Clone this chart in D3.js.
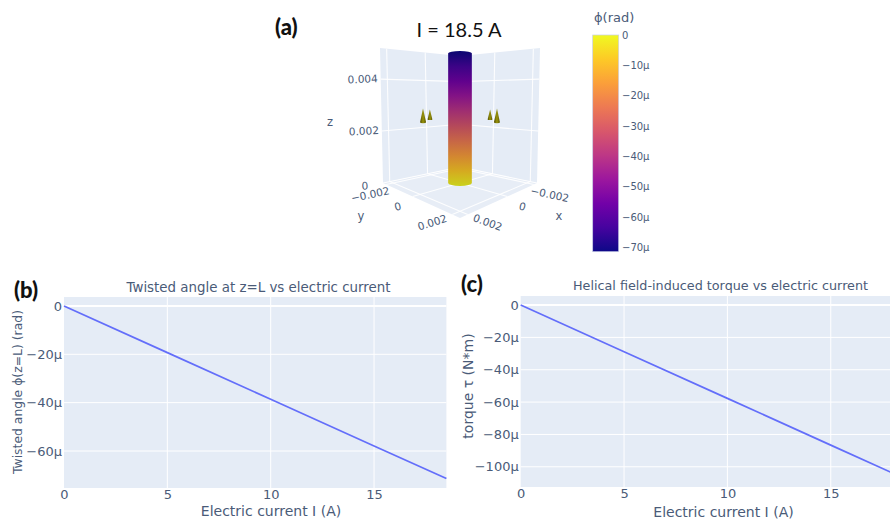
<!DOCTYPE html>
<html><head><meta charset="utf-8">
<script src="https://cdn.jsdelivr.net/npm/d3@7"></script>
<style>html,body{margin:0;padding:0;background:#fff;overflow:hidden}svg{display:block}text{font-family:"DejaVu Sans",sans-serif;fill:#4a5b78}</style>
</head><body><svg id="c" width="890" height="519"></svg>
<script>
// ---- data ----
const current = [0, 5, 10, 15, 18.5];
const twistAngle = [0, -19.3, -38.6, -57.9, -71.4];   // µrad
const torque = [0, -28.9, -57.7, -86.6, -106.8];      // µN·m
const xTicks = [0, 5, 10, 15];
const twistTicks = [0, -20, -40, -60];
const torqueTicks = [0, -20, -40, -60, -80, -100];
const cbTicks = [0, -10, -20, -30, -40, -50, -60, -70];
const plasma = ["#0d0887","#46039f","#7201a8","#9c179e","#bd3786","#d8576b","#ed7953","#fb9f3a","#fdca26","#f0f921"];
const sceneXTicks = [-0.002, 0, 0.002];
const sceneZTicks = [0, 0.002, 0.004];
const rodRadius = 0.0005, rodLength = 0.005;
const coneX = [0.00147, 0.00048, -0.00055, -0.0014];
const coneY = [-0.00055, -0.0014, 0.00147, 0.00048];
const coneSize = [1, 0.8, 1, 0.8];
const coneZ = 0.0024;

const svg = d3.select("#c");
const defs = svg.append("defs");
const fmtMicro = d => d === 0 ? "0" : "\u2212" + Math.abs(d) + "\u00b5";
const phiMin = twistAngle[twistAngle.length - 1];

// ---- 2D panels ----
function panel(o) {
  const x = d3.scaleLinear().domain([0, 18.5]).range([o.l, o.l + 382.4]);
  const y = d3.scaleLinear().domain(o.yDomain).range([o.b, o.t]);
  const g = svg.append("g");
  g.append("rect").attr("x", o.l).attr("y", o.t).attr("width", 382.4).attr("height", o.b - o.t).attr("fill", "#e5ecf6");
  g.selectAll("line.v").data(xTicks.slice(1)).join("line").attr("x1", x).attr("x2", x).attr("y1", o.t).attr("y2", o.b).attr("stroke", "#fff").attr("stroke-width", 1);
  g.selectAll("line.h").data(o.ticks).join("line").attr("x1", o.l).attr("x2", o.l + 382.4).attr("y1", y).attr("y2", y).attr("stroke", "#fff").attr("stroke-width", d => d === 0 ? 2 : 1);
  g.append("path").datum(d3.range(current.length)).attr("fill", "none").attr("stroke", "#636efa").attr("stroke-width", 1.7)
    .attr("d", d3.line().x(i => x(current[i])).y(i => y(o.values[i])));
  const ax = g.append("g").attr("transform", `translate(0,${o.b})`).call(d3.axisBottom(x).tickValues(xTicks).tickSize(0).tickPadding(2).tickFormat(d3.format("d")));
  ax.select(".domain").remove();
  ax.selectAll("text").attr("font-size", 13).style("font-family", '"DejaVu Sans"').style("fill", "#4a5b78");
  const ay = g.append("g").attr("transform", `translate(${o.l - 2},0)`).call(d3.axisLeft(y).tickValues(o.ticks).tickSize(0).tickPadding(0).tickFormat(fmtMicro));
  ay.select(".domain").remove();
  ay.selectAll("text").attr("font-size", 13).style("font-family", '"DejaVu Sans"').style("fill", "#4a5b78");
  g.append("text").attr("x", o.titleX).attr("y", o.titleY).attr("text-anchor", "middle").attr("font-size", o.titleSize).text(o.title);
  g.append("text").attr("x", o.xlabX).attr("y", o.xlabY).attr("text-anchor", "middle").attr("font-size", 14).text("Electric current I (A)");
  g.append("text").attr("transform", `translate(${o.ylabX},${o.ylabY}) rotate(-90)`).attr("text-anchor", "middle").attr("font-size", o.ylabSize).text(o.ylab);
}
panel({l: 64, t: 297, b: 488, yDomain: [-75.3, 3.7], values: twistAngle, ticks: twistTicks,
  title: "Twisted angle at z=L vs electric current", titleX: 258.5, titleY: 292, titleSize: 13.4, xlabX: 271, xlabY: 516,
  ylab: "Twisted angle \u03d5(z=L) (rad)", ylabX: 22, ylabY: 392, ylabSize: 12.4});
panel({l: 520.7, t: 296, b: 487, yDomain: [-112.5, 5.6], values: torque, ticks: torqueTicks,
  title: "Helical field-induced torque vs electric current", titleX: 720.5, titleY: 290, titleSize: 12.75, xlabX: 723.5, xlabY: 517,
  ylab: "torque \u03c4 (N*m)", ylabX: 473, ylabY: 386, ylabSize: 14});

// ---- colour bar ----
const cbY = d3.scaleLinear().domain([phiMin, 0]).range([251.7, 35]);
const cbGrad = defs.append("linearGradient").attr("id", "cb").attr("x1", 0).attr("x2", 0).attr("y1", 1).attr("y2", 0);
cbGrad.selectAll("stop").data(plasma).join("stop").attr("offset", (_, i) => i / (plasma.length - 1)).attr("stop-color", d => d);
svg.append("rect").attr("x", 592.7).attr("y", 35).attr("width", 26).attr("height", 216.7).attr("fill", "url(#cb)").attr("stroke", "#c9cfe6").attr("stroke-width", 0.7);
const cbAxis = svg.append("g").attr("transform", "translate(622,0)").call(d3.axisRight(cbY).tickValues(cbTicks).tickSize(0).tickPadding(0).tickFormat(fmtMicro));
cbAxis.select(".domain").remove();
cbAxis.selectAll("text").attr("font-size", 10).style("font-family", '"DejaVu Sans"').style("fill", "#4a5b78");
svg.append("text").attr("x", 594).attr("y", 22).attr("font-size", 13).text("\u03d5(rad)");

// ---- 3D scene ----
const range3 = 0.0023, zMax = 0.0052;
const U = d3.scaleLinear().domain([-range3, range3]).range([-1, 1]);
const W = d3.scaleLinear().domain([0, zMax]).range([0, 1]);
function proj(x, y, z) {
  const u = U(x), v = U(y), w = W(z), s = (v - u) / 2, t = (u + v) / 2;
  const d0 = 1 - 0.3725 * t, d1 = 1 - 0.3 * t;
  const x0 = 460 + 77 * s / d0, y0 = (183 - 46.2 * t) / d0;
  const x1 = 460 + 80 * s / d1, y1 = (48 - 24.8 * t) / d1;
  return [x0 + (x1 - x0) * w, y0 + (y1 - y0) * w];
}
const poly = pts => "M" + pts.map(p => proj(...p).map(n => n.toFixed(2)).join(",")).join("L") + "Z";
const seg = (a, b) => "M" + proj(...a).join(",") + "L" + proj(...b).join(",");
const R = range3;
const scene = svg.append("g");
// panes
scene.append("path").attr("d", poly([[R,-R,0],[-R,-R,0],[-R,-R,zMax],[R,-R,zMax]])).attr("fill", "#e5ecf6");
scene.append("path").attr("d", poly([[-R,R,0],[-R,-R,0],[-R,-R,zMax],[-R,R,zMax]])).attr("fill", "#e5ecf6");
scene.append("path").attr("d", poly([[R,R,0],[R,-R,0],[-R,-R,0],[-R,R,0]])).attr("fill", "#e7edf6");
// grid
const gridPaths = [];
sceneXTicks.forEach(k => {
  gridPaths.push(seg([k,-R,0],[k,-R,zMax]));   // back-left wall verticals
  gridPaths.push(seg([-R,k,0],[-R,k,zMax]));   // back-right wall verticals
  gridPaths.push(seg([k,-R,0],[k,R,0]));       // floor
  gridPaths.push(seg([-R,k,0],[R,k,0]));
});
sceneZTicks.forEach(z => {
  gridPaths.push(seg([R,-R,z],[-R,-R,z]));
  gridPaths.push(seg([-R,R,z],[-R,-R,z]));
});
scene.append("g").selectAll("path").data(gridPaths).join("path").attr("d", d => d).attr("fill", "none").attr("stroke", "#fff").attr("stroke-width", 1.1).attr("stroke-opacity", 0.9);

// rod
const shade = c => { const k = 0.84, r = d3.rgb(c); return d3.rgb(r.r * k, r.g * k, r.b * k).formatHex(); };
const rodGrad = defs.append("linearGradient").attr("id", "rod").attr("x1", 0).attr("x2", 0).attr("y1", 0).attr("y2", 1);
rodGrad.selectAll("stop").data(plasma).join("stop").attr("offset", (_, i) => i / (plasma.length - 1)).attr("stop-color", d => shade(d));
const rx = rodRadius * Math.SQRT1_2 / range3 * 77;
const ryBase = rx * 0.25;
const pBot = proj(0, 0, 0), pTop = proj(0, 0, rodLength);
scene.append("path").attr("d",
  `M${pTop[0]-rx},${pTop[1]}A${rx},${ryBase*0.7} 0 0 1 ${pTop[0]+rx},${pTop[1]}L${pBot[0]+rx},${pBot[1]}A${rx},${ryBase} 0 0 1 ${pBot[0]-rx},${pBot[1]}Z`)
  .attr("fill", "url(#rod)");

// cones
const coneGrad = defs.append("linearGradient").attr("id", "cone").attr("x1", 0).attr("x2", 1).attr("y1", 0).attr("y2", 0);
coneGrad.selectAll("stop").data(["#4f4c00", "#9a950c", "#5a5600"]).join("stop").attr("offset", (_, i) => i / 2).attr("stop-color", d => d);
scene.append("g").selectAll("path").data(d3.range(coneX.length)).join("path")
  .attr("d", i => {
    const b = proj(coneX[i], coneY[i], coneZ), a = proj(coneX[i], coneY[i], coneZ + 0.0005 * coneSize[i]);
    const hw = 3 * coneSize[i];
    return `M${a[0]},${a[1]}L${b[0]+hw},${b[1]}A${hw},${hw*0.3} 0 0 1 ${b[0]-hw},${b[1]}Z`;
  }).attr("fill", "url(#cone)");

// scene labels
const tick3 = (p, dx, dy, rot, txt, size) => {
  svg.append("text").attr("transform", `translate(${p[0] + dx},${p[1] + dy}) rotate(${rot})`).attr("text-anchor", "middle").attr("dy", "0.35em").attr("font-size", size || 10.5).text(txt);
};
const sciLabel = d => d === 0 ? "0" : (d < 0 ? "\u2212" : "") + Math.abs(d).toFixed(3);
const xOff = [[16, 10, 12], [15, 10, 15], [20, 8, 20]];
const yOff = [[-16, 10, -12], [-15, 10, -15], [-20, 8, -17]];
sceneXTicks.forEach((k, i) => {
  tick3(proj(k, R, 0), xOff[i][0], xOff[i][1], xOff[i][2], sciLabel(k));
  tick3(proj(R, k, 0), yOff[i][0], yOff[i][1], yOff[i][2], sciLabel(k));
});
sceneZTicks.forEach(z => tick3(proj(R, -R, z), -18, z === 0 ? 3 : 0, -3, sciLabel(z)));
[["z", 330, 122], ["y", 361, 216], ["x", 559, 216]].forEach(a => svg.append("text").attr("x", a[1]).attr("y", a[2]).attr("text-anchor", "middle").attr("dy", "0.35em").attr("font-size", 11.5).text(a[0]));

// annotations
const note = (x, y, t, size, bold, anchor) => svg.append("text").attr("x", x).attr("y", y).attr("text-anchor", anchor || "start").attr("font-size", size).attr("font-weight", bold ? 900 : 400).style("font-family", "Lato").style("fill", "#111").text(t);
note(459, 37, "I = 18.5 A", 20, false, "middle");
note(275, 35, "(a)", 22, true);
note(14, 298, "(b)", 22, true);
note(461, 292, "(c)", 22, true);
</script></body></html>
